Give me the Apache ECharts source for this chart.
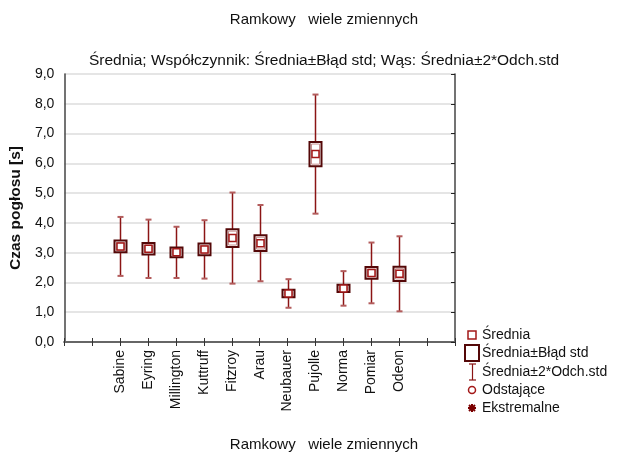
<!DOCTYPE html>
<html>
<head>
<meta charset="utf-8">
<script src="https://cdn.jsdelivr.net/npm/echarts@6/dist/echarts.min.js"></script>
<style>
  html, body { margin: 0; padding: 0; background: #fff; }
  #chart { width: 624px; height: 453px; }
</style>
</head>
<body>
<div id="chart"></div>
<script>
// Reverberation time per prediction method: mean, standard error, standard deviation [s]
const categories = ['Sabine', 'Eyring', 'Millington', 'Kuttruff', 'Fitzroy', 'Arau',
                    'Neubauer', 'Pujolle', 'Norma', 'Pomiar', 'Odeon'];
const means   = [3.21, 3.13, 3.01, 3.11, 3.49, 3.32, 1.63, 6.31, 1.80, 2.32, 2.29];
const stdErr  = [0.20, 0.195, 0.165, 0.20, 0.30, 0.265, 0.125, 0.405, 0.125, 0.195, 0.24];
const stdDev  = [0.495, 0.49, 0.43, 0.49, 0.765, 0.64, 0.24, 1.0, 0.29, 0.51, 0.63];
const yTicks  = ['0,0', '1,0', '2,0', '3,0', '4,0', '5,0', '6,0', '7,0', '8,0', '9,0'];

// Two empty slots on each side of the methods on the category axis
const axisSlots = ['', ''].concat(categories, ['', '']);
const OFFSET = 2;

const boxData = categories.map((c, i) => [i + OFFSET, means[i], stdErr[i], stdDev[i]]);

const FONT = '"Liberation Sans", Arial, sans-serif';
const WHISKER = '#8b1414';
const CAP = '#b35c5c';
const BOX = '#540808';
const MEAN = '#a31818';

function renderBox(params, api) {
  const x = api.value(0), m = api.value(1), se = api.value(2), sd = api.value(3);
  const top = api.coord([x, m + 2 * sd]);
  const bot = api.coord([x, m - 2 * sd]);
  const bTop = api.coord([x, m + se]);
  const bBot = api.coord([x, m - se]);
  const c = api.coord([x, m]);
  const cx = Math.round(c[0]) + 0.5;
  const bw = 12, cw = 6, mw = 7;
  return {
    type: 'group',
    children: [
      { type: 'line', shape: { x1: cx, y1: top[1], x2: cx, y2: bot[1] },
        style: { stroke: WHISKER, lineWidth: 1.5 } },
      { type: 'line', shape: { x1: cx - cw / 2, y1: top[1], x2: cx + cw / 2, y2: top[1] },
        style: { stroke: CAP, lineWidth: 2 } },
      { type: 'line', shape: { x1: cx - cw / 2, y1: bot[1], x2: cx + cw / 2, y2: bot[1] },
        style: { stroke: CAP, lineWidth: 2 } },
      { type: 'rect', shape: { x: cx - bw / 2, y: bTop[1], width: bw, height: bBot[1] - bTop[1] },
        style: { fill: '#fff', stroke: BOX, lineWidth: 2 } },
      { type: 'rect', shape: { x: cx - bw / 2 + 2, y: bTop[1] + 2, width: bw - 4, height: Math.max(0, bBot[1] - bTop[1] - 4) },
        style: { fill: 'none', stroke: '#c89090', lineWidth: 1 } },
      { type: 'rect', shape: { x: cx - mw / 2, y: c[1] - mw / 2, width: mw, height: mw },
        style: { fill: '#fff', stroke: MEAN, lineWidth: 1.5 } }
    ]
  };
}

// Legend drawn as plain shapes and text on the right
const LX = 472, TX = 482;
const legendRows = [
  { y: 335, text: 'Średnia' },
  { y: 353, text: 'Średnia±Błąd std' },
  { y: 372, text: 'Średnia±2*Odch.std' },
  { y: 390, text: 'Odstające' },
  { y: 408, text: 'Ekstremalne' }
];
const legendGraphics = [
  { type: 'rect', shape: { x: LX - 4, y: 331, width: 8, height: 8 },
    style: { fill: '#fff', stroke: MEAN, lineWidth: 1.5 } },
  { type: 'rect', shape: { x: LX - 7, y: 345, width: 14, height: 16 },
    style: { fill: '#fff', stroke: BOX, lineWidth: 2 } },
  { type: 'line', shape: { x1: LX + 0.5, y1: 364, x2: LX + 0.5, y2: 380 }, style: { stroke: WHISKER, lineWidth: 1.2 } },
  { type: 'line', shape: { x1: LX - 3, y1: 364, x2: LX + 4, y2: 364 }, style: { stroke: WHISKER, lineWidth: 1.2 } },
  { type: 'line', shape: { x1: LX - 3, y1: 380, x2: LX + 4, y2: 380 }, style: { stroke: WHISKER, lineWidth: 1.2 } },
  { type: 'circle', shape: { cx: LX, cy: 390, r: 3.5 }, style: { fill: '#fff', stroke: MEAN, lineWidth: 1.5 } },
  { type: 'line', shape: { x1: LX - 4, y1: 408, x2: LX + 4, y2: 408 }, style: { stroke: '#7a0000', lineWidth: 2 } },
  { type: 'line', shape: { x1: LX, y1: 404, x2: LX, y2: 412 }, style: { stroke: '#7a0000', lineWidth: 2 } },
  { type: 'line', shape: { x1: LX - 3, y1: 405, x2: LX + 3, y2: 411 }, style: { stroke: '#7a0000', lineWidth: 2 } },
  { type: 'line', shape: { x1: LX - 3, y1: 411, x2: LX + 3, y2: 405 }, style: { stroke: '#7a0000', lineWidth: 2 } }
].concat(legendRows.map(r => ({
  type: 'text', x: TX, y: r.y,
  style: { text: r.text, font: '14px ' + FONT, fill: '#111', textVerticalAlign: 'middle', textAlign: 'left' }
})));

const chart = echarts.init(document.getElementById('chart'), null, { renderer: 'canvas' });
chart.setOption({
  animation: false,
  backgroundColor: '#fff',
  textStyle: { fontFamily: FONT },
  title: [
    { text: 'Ramkowy   wiele zmiennych', left: 319, top: 7, textAlign: 'center',
      textStyle: { fontSize: 15, fontWeight: 'normal', color: '#111', fontFamily: FONT } },
    { text: 'Średnia; Współczynnik: Średnia±Błąd std; Wąs: Średnia±2*Odch.std', left: 319, top: 48, textAlign: 'center',
      textStyle: { fontSize: 15.5, fontWeight: 'normal', color: '#111', fontFamily: FONT } },
    { text: 'Ramkowy   wiele zmiennych', left: 319, top: 432, textAlign: 'center',
      textStyle: { fontSize: 15, fontWeight: 'normal', color: '#111', fontFamily: FONT } }
  ],
  grid: { left: 63, right: 169, top: 74, bottom: 111, containLabel: false },
  xAxis: [
    { type: 'category', data: axisSlots, boundaryGap: false, position: 'bottom',
      axisLine: { lineStyle: { color: '#666', width: 2 } },
      axisTick: { inside: true, length: 4, interval: 0, lineStyle: { color: '#333' } },
      axisLabel: { interval: 0, rotate: 90, margin: 8, fontSize: 14, color: '#111', fontFamily: FONT },
      splitLine: { show: false } },
    { type: 'category', data: axisSlots, boundaryGap: false, position: 'top',
      axisLine: { lineStyle: { color: '#666', width: 2 } },
      axisTick: { inside: true, length: 4, interval: 0, lineStyle: { color: '#333' } },
      axisLabel: { show: false }, splitLine: { show: false } }
  ],
  yAxis: [
    { type: 'value', min: 0, max: 9, interval: 1, position: 'left',
      name: 'Czas pogłosu [s]', nameLocation: 'middle', nameGap: 31, nameRotate: 90,
      nameTextStyle: { fontSize: 15.5, fontWeight: 'bold', color: '#111', fontFamily: FONT },
      axisLine: { show: true, lineStyle: { color: '#444', width: 1.5 } },
      axisTick: { show: false },
      axisLabel: { margin: 10, fontSize: 14, color: '#111', fontFamily: FONT,
                   formatter: (v) => yTicks[Math.round(v)] },
      splitLine: { show: true, lineStyle: { color: '#dcdcdc', width: 1.5 } } },
    { type: 'value', min: 0, max: 9, interval: 1, position: 'right',
      axisLine: { show: true, lineStyle: { color: '#444', width: 1.5 } },
      axisTick: { show: true, inside: true, length: 4, lineStyle: { color: '#222' } },
      axisLabel: { show: false }, splitLine: { show: false } }
  ],
  series: [{
    type: 'custom',
    xAxisIndex: 0, yAxisIndex: 0,
    renderItem: renderBox,
    encode: { x: 0, y: 1 },
    data: boxData,
    clip: false,
    z: 5
  }],
  graphic: legendGraphics
});
</script>
</body>
</html>
